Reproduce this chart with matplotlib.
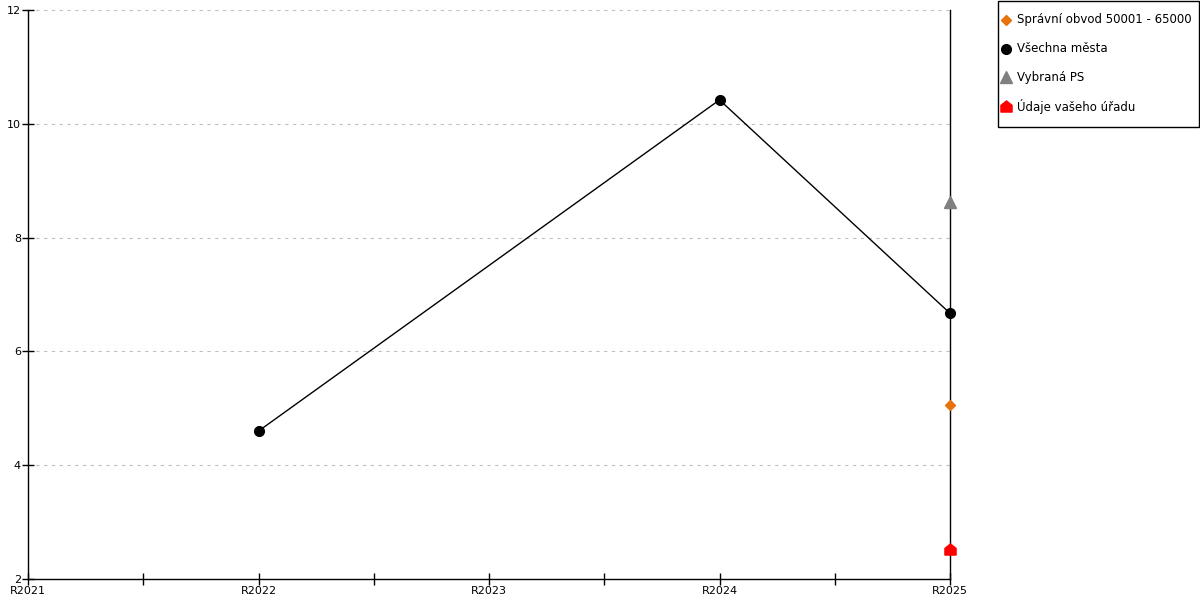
import matplotlib.pyplot as plt
from matplotlib.path import Path
from matplotlib.lines import Line2D
from matplotlib.patches import Rectangle

# data
roky = ['R2021', 'R2022', 'R2023', 'R2024', 'R2025']
vsechna_mesta = [None, 4.6, None, 10.42, 6.67]
spravni_obvod = [5.06]
vybrana_ps = [8.63]
udaje_uradu = [2.53]

# marker "domecek" pro udaje uradu
domek = Path([(-1, -1), (1, -1), (1, 0.2), (0, 1), (-1, 0.2), (-1, -1)],
             [Path.MOVETO, Path.LINETO, Path.LINETO, Path.LINETO, Path.LINETO, Path.CLOSEPOLY])

W, H = 1200, 600
fig = plt.figure(figsize=(12, 6), dpi=100)
ax = fig.add_axes([28/W, 1 - 579/H, (950 - 28)/W, (579 - 10)/H])

x = list(range(len(roky)))
body = [(xi, v) for xi, v in zip(x, vsechna_mesta) if v is not None]
ax.plot([b[0] for b in body], [b[1] for b in body], color='black', lw=1.0,
        marker='o', ms=7, zorder=4, clip_on=False)
posl = x[-1]
ax.plot([posl], spravni_obvod, ls='none', marker='D', ms=5, color='#E8720C',
        zorder=5, clip_on=False)
ax.plot([posl], vybrana_ps, ls='none', marker='^', ms=8, color='#808080',
        zorder=5, clip_on=False)
ax.plot([posl], udaje_uradu, ls='none', marker=domek, ms=8, color='#FF0000',
        zorder=5, clip_on=False)

ax.set_xlim(0, len(roky) - 1)
ax.set_ylim(2, 12)
ax.set_yticks([2, 4, 6, 8, 10, 12])
ax.set_xticks(x)
ax.set_xticklabels(roky)
ax.set_xticks([i + 0.5 for i in x[:-1]], minor=True)
ax.tick_params(axis='both', which='both', direction='inout', length=8, width=1,
               labelsize=8, pad=1)
ax.grid(axis='y', color='#c0c0c0', ls=(0, (3, 4)), lw=0.8)
ax.spines['top'].set_visible(False)
for s in ['left', 'bottom', 'right']:
    ax.spines[s].set_linewidth(1)

# legenda - rucne
fig.add_artist(Rectangle((997.5/W, 1 - 127/H), 201/W, 126.5/H, transform=fig.transFigure,
                         facecolor='white', edgecolor='black', lw=1))
polozky = [
    ('Správní obvod 50001 - 65000', 'D', 5, '#E8720C'),
    ('Všechna města', 'o', 7, 'black'),
    ('Vybraná PS', '^', 8, '#808080'),
    ('Údaje vašeho úřadu', domek, 8, '#FF0000'),
]
for i, (txt, mk, ms, c) in enumerate(polozky):
    yy = 1 - (20 + i * 28.7) / H
    fig.add_artist(Line2D([1006/W], [yy], marker=mk, ms=ms, color=c, ls='none',
                          transform=fig.transFigure))
    fig.text(1017/W, yy, txt, fontsize=8.5, va='center', ha='left')

fig.savefig('out.png', dpi=100)
